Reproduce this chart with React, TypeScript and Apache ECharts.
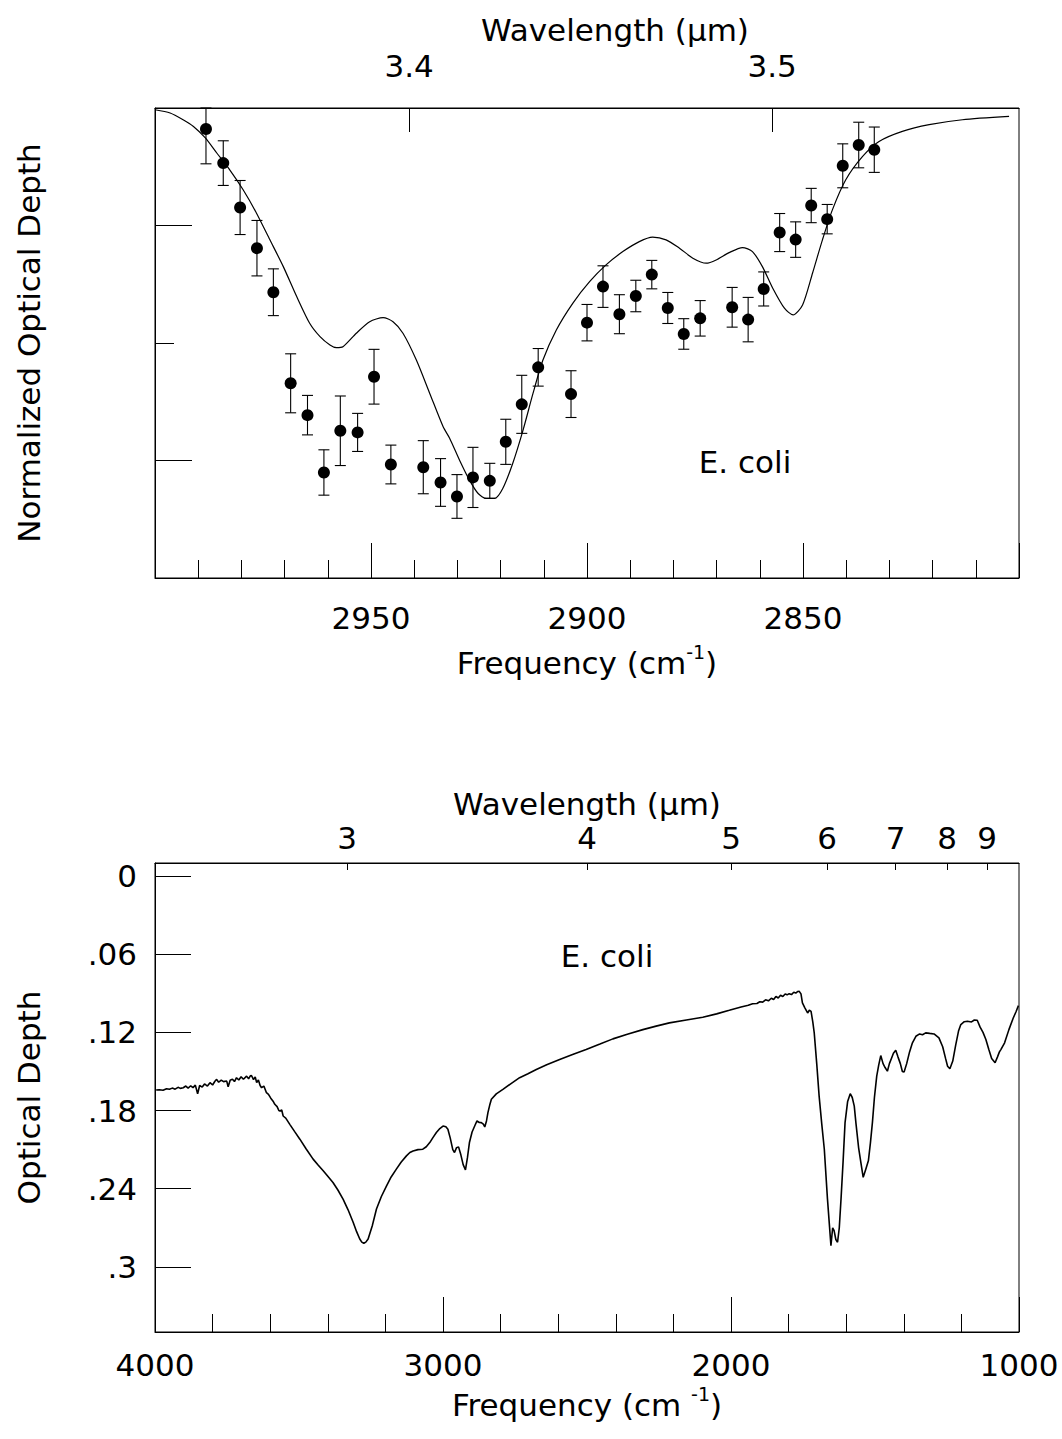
import React, { useEffect, useRef } from 'react';
import * as echarts from 'echarts';

// ---------- data ----------
const topWavelengths = [3.4, 3.5];
const bottomWavelengths = [3, 4, 5, 6, 7, 8, 9];
const opticalDepthTicks = [0, 0.06, 0.12, 0.18, 0.24, 0.3];

// measured points (normalized optical depth) with error bars
const pointFreq = [2988.2, 2984.2, 2980.3, 2976.4, 2972.6, 2968.6, 2964.7, 2960.9, 2957.1, 2953.1, 2949.3, 2945.4, 2937.9, 2933.9, 2930.1, 2926.4, 2922.5, 2918.8, 2915.1, 2911.3, 2903.7, 2900.0, 2896.3, 2892.5, 2888.7, 2885.0, 2881.3, 2877.6, 2873.8, 2866.4, 2862.7, 2859.1, 2855.4, 2851.7, 2848.1, 2844.4, 2840.8, 2837.1, 2833.5];
const pointDepth = [3.821, 3.531, 3.153, 2.807, 2.432, 1.657, 1.386, 0.898, 1.253, 1.239, 1.713, 0.966, 0.943, 0.813, 0.694, 0.856, 0.827, 1.159, 1.478, 1.793, 1.565, 2.173, 2.48, 2.245, 2.4, 2.582, 2.298, 2.077, 2.21, 2.304, 2.199, 2.46, 2.94, 2.88, 3.17, 3.054, 3.508, 3.685, 3.645];
const pointErr = [0.296, 0.19, 0.23, 0.236, 0.199, 0.251, 0.168, 0.193, 0.296, 0.162, 0.233, 0.165, 0.226, 0.203, 0.186, 0.256, 0.149, 0.192, 0.247, 0.16, 0.199, 0.155, 0.177, 0.166, 0.134, 0.121, 0.132, 0.13, 0.151, 0.169, 0.189, 0.145, 0.162, 0.151, 0.146, 0.125, 0.187, 0.194, 0.193];

// model curve [frequency, normalized depth]
const modelCurve = [
  [3000, 3.985], [2996.5, 3.957], [2993.5, 3.9], [2991.1, 3.843], [2988.4, 3.747], [2985.7, 3.617],
  [2982.7, 3.474], [2979.6, 3.304], [2976.5, 3.105], [2973.4, 2.878], [2970.3, 2.65], [2967.2, 2.395],
  [2964.2, 2.168], [2961.8, 2.054], [2959.5, 1.983], [2958.0, 1.96], [2956.5, 1.968], [2953.4, 2.083],
  [2950.3, 2.181], [2947.2, 2.216], [2944.9, 2.181], [2942.6, 2.083], [2939.5, 1.855], [2936.4, 1.571],
  [2933.3, 1.287], [2931.8, 1.19], [2929.5, 1.003], [2927.2, 0.833], [2925.2, 0.719], [2923.3, 0.677],
  [2921.4, 0.677], [2919.5, 0.762], [2917.2, 0.975], [2914.8, 1.259], [2912.5, 1.571], [2910.2, 1.855],
  [2907.1, 2.111], [2903.3, 2.338], [2899.4, 2.522], [2895.6, 2.665], [2891.7, 2.778], [2887.9, 2.863],
  [2884.8, 2.901], [2881.7, 2.878], [2878.6, 2.807], [2875.5, 2.722], [2872.4, 2.679], [2870.1, 2.707],
  [2867.1, 2.769], [2864.0, 2.812], [2861.7, 2.778], [2859.4, 2.65], [2857.0, 2.466], [2854.3, 2.296],
  [2852.3, 2.239], [2850.1, 2.324], [2847.8, 2.594], [2845.5, 2.878], [2843.2, 3.133], [2840.1, 3.389],
  [2836.2, 3.588], [2832.4, 3.715], [2827.0, 3.801], [2820.8, 3.858], [2813.1, 3.9], [2802.3, 3.928]
];

// laboratory spectrum [frequency, optical depth]
const spectrum = [
  [3996, 0.1643], [3985, 0.164], [3972, 0.1645], [3960, 0.1633], [3950, 0.1637], [3940, 0.1628], [3930, 0.1636],
  [3920, 0.1622], [3912, 0.163], [3902, 0.1625], [3893, 0.1612], [3885, 0.1628], [3876, 0.161], [3868, 0.1624],
  [3860, 0.1605], [3852, 0.1671], [3845, 0.1608], [3836, 0.162], [3828, 0.1596], [3818, 0.1612], [3809, 0.1586],
  [3800, 0.1604], [3792, 0.1575], [3786, 0.1561], [3779, 0.1583], [3770, 0.1566], [3762, 0.1578], [3751, 0.1574],
  [3746, 0.1617], [3739, 0.1568], [3731, 0.1559], [3724, 0.1578], [3717, 0.1548], [3709, 0.1566], [3701, 0.1541],
  [3693, 0.156], [3682, 0.1536], [3675, 0.1556], [3669, 0.1534], [3665, 0.1531], [3658, 0.1562], [3652, 0.1543],
  [3647, 0.1586], [3641, 0.1566], [3635, 0.1608], [3630, 0.1625], [3622, 0.1612], [3613, 0.1663], [3606, 0.1676],
  [3598, 0.1705], [3590, 0.1728], [3584, 0.1752], [3576, 0.177], [3570, 0.18], [3566, 0.1804], [3560, 0.1796],
  [3555, 0.1842], [3546, 0.1858], [3532, 0.1906], [3515, 0.1962], [3497, 0.202], [3475, 0.2095], [3451, 0.2173],
  [3433, 0.222], [3416, 0.2263], [3400, 0.2305], [3382, 0.2352], [3365, 0.241], [3347, 0.248], [3330, 0.256],
  [3312, 0.2658], [3300, 0.273], [3289, 0.2786], [3282, 0.281], [3275, 0.2819], [3268, 0.281], [3260, 0.2786],
  [3245, 0.268], [3231, 0.2556], [3214, 0.246], [3196, 0.2378], [3180, 0.231], [3162, 0.225], [3145, 0.2195],
  [3127, 0.2148], [3115, 0.2122], [3104, 0.211], [3087, 0.21], [3070, 0.2097], [3058, 0.2078], [3046, 0.2046],
  [3035, 0.2008], [3023, 0.1969], [3011, 0.1938], [3000, 0.1919], [2990, 0.1925], [2983, 0.1944], [2975, 0.201],
  [2966, 0.21], [2960, 0.2122], [2953, 0.2085], [2946, 0.2079], [2938, 0.214], [2930, 0.2215], [2922, 0.2255],
  [2915, 0.216], [2908, 0.2043], [2899, 0.1965], [2890, 0.1919], [2882, 0.188], [2874, 0.1892], [2867, 0.1893],
  [2860, 0.1905], [2855, 0.1926], [2849, 0.188], [2844, 0.1816], [2838, 0.176], [2832, 0.1714], [2815, 0.1672],
  [2792, 0.1638], [2765, 0.1595], [2734, 0.1548], [2705, 0.1518], [2676, 0.1485], [2640, 0.1448], [2595, 0.1408],
  [2550, 0.137], [2503, 0.1332], [2455, 0.129], [2410, 0.125], [2360, 0.1215], [2306, 0.1179], [2260, 0.1152],
  [2214, 0.1127], [2155, 0.1105], [2098, 0.1084], [2050, 0.1058], [2006, 0.1031], [1965, 0.1005], [1940, 0.0992],
  [1925, 0.098], [1910, 0.0978], [1900, 0.0965], [1890, 0.0968], [1880, 0.095], [1870, 0.0958], [1860, 0.0938],
  [1852, 0.0948], [1844, 0.0924], [1836, 0.0936], [1828, 0.0915], [1820, 0.0925], [1812, 0.0906], [1805, 0.0912],
  [1798, 0.0903], [1790, 0.091], [1782, 0.0892], [1775, 0.0898], [1768, 0.0886], [1763, 0.0885], [1757, 0.0905],
  [1752, 0.0974], [1744, 0.101], [1734, 0.1051], [1728, 0.103], [1722, 0.1039], [1716, 0.112], [1711, 0.1204],
  [1702, 0.145], [1694, 0.1689], [1685, 0.19], [1676, 0.2097], [1665, 0.248], [1653, 0.2837], [1647, 0.27],
  [1642, 0.2722], [1636, 0.279], [1630, 0.2811], [1624, 0.27], [1618, 0.248], [1611, 0.22], [1604, 0.1893],
  [1595, 0.173], [1586, 0.1671], [1579, 0.17], [1572, 0.1766], [1566, 0.19], [1557, 0.2084], [1549, 0.22],
  [1541, 0.2313], [1532, 0.225], [1523, 0.2186], [1516, 0.205], [1509, 0.1893], [1502, 0.17], [1494, 0.1536],
  [1487, 0.145], [1480, 0.1378], [1472, 0.144], [1465, 0.147], [1457, 0.1498], [1450, 0.144], [1443, 0.14],
  [1436, 0.136], [1428, 0.1337], [1420, 0.139], [1412, 0.144], [1405, 0.15], [1399, 0.1505], [1390, 0.144],
  [1380, 0.135], [1370, 0.128], [1358, 0.123], [1345, 0.1212], [1335, 0.1218], [1324, 0.1204], [1310, 0.1208],
  [1295, 0.1212], [1278, 0.1242], [1265, 0.131], [1255, 0.14], [1248, 0.146], [1240, 0.1479], [1230, 0.142],
  [1220, 0.13], [1210, 0.119], [1202, 0.114], [1190, 0.1118], [1179, 0.1115], [1165, 0.112], [1155, 0.1105],
  [1145, 0.1107], [1135, 0.116], [1125, 0.12], [1115, 0.1255], [1105, 0.133], [1095, 0.14], [1083, 0.1433],
  [1075, 0.139], [1068, 0.135], [1063, 0.1332], [1050, 0.128], [1035, 0.1179], [1020, 0.109], [1010, 0.104],
  [1002, 0.0995]
];

const FONT = "'DejaVu Sans', sans-serif";

export default function App() {
  const ref = useRef<HTMLDivElement>(null);

  useEffect(() => {
    document.body.style.margin = '0';
    const chart = echarts.init(ref.current!, undefined, { renderer: 'svg' });

    const text = { fontFamily: FONT, fontSize: 31, color: '#000', lineHeight: 30 };
    const rich = {
      m: { fontFamily: FONT, fontSize: 31, color: '#000', lineHeight: 42 },
      sup: { fontFamily: FONT, fontSize: 19, color: '#000', verticalAlign: 'top' as const, lineHeight: 20 }
    };
    const line = { color: '#000', width: 1 };
    const noSplit = { show: false };

    const option: any = {
      animation: false,
      backgroundColor: '#fff',
      grid: [
        { left: 155, top: 108, width: 864, height: 470, show: true, borderColor: '#000', borderWidth: 1, backgroundColor: 'transparent', outerBoundsMode: 'none', containLabel: false },
        { left: 155, top: 863, width: 864, height: 469, show: true, borderColor: '#000', borderWidth: 1, backgroundColor: 'transparent', outerBoundsMode: 'none', containLabel: false }
      ],
      xAxis: [
        {
          gridIndex: 0, type: 'value', position: 'bottom', min: 2800, max: 3000, interval: 50, inverse: true,
          axisLine: { show: true, onZero: false, lineStyle: line },
          axisTick: { show: true, inside: true, length: 35, lineStyle: line },
          minorTick: { show: true, splitNumber: 5, length: 18, lineStyle: line },
          splitLine: noSplit, minorSplitLine: noSplit,
          axisLabel: { ...text, margin: 25, formatter: (v: number) => (v === 2800 || v === 3000 ? '' : String(v)) },
          name: '{m|Frequency (cm}{sup|-1}{m|)}', nameLocation: 'middle', nameGap: 64,
          nameTextStyle: { ...text, rich }
        },
        {
          gridIndex: 0, type: 'value', position: 'top', min: 2800, max: 3000, inverse: true,
          axisLine: { show: true, onZero: false, lineStyle: line },
          axisTick: { show: true, inside: true, length: 24, lineStyle: line, customValues: topWavelengths.map((w) => 1e4 / w) },
          splitLine: noSplit,
          axisLabel: { ...text, margin: 27, customValues: topWavelengths.map((w) => 1e4 / w), formatter: (v: number) => (1e4 / v).toFixed(1) },
          name: 'Wavelength (µm)', nameLocation: 'middle', nameGap: 63,
          nameTextStyle: { ...text, padding: [0, 0, 0, 56] }
        },
        {
          gridIndex: 1, type: 'value', position: 'bottom', min: 1000, max: 4000, interval: 1000, inverse: true,
          axisLine: { show: true, onZero: false, lineStyle: line },
          axisTick: { show: true, inside: true, length: 35, lineStyle: line },
          minorTick: { show: true, splitNumber: 5, length: 18, lineStyle: line },
          splitLine: noSplit, minorSplitLine: noSplit,
          axisLabel: { ...text, margin: 18, showMinLabel: true, showMaxLabel: true, formatter: (v: number) => String(v) },
          name: '{m|Frequency (cm }{sup|-1}{m|)}', nameLocation: 'middle', nameGap: 52,
          nameTextStyle: { ...text, rich }
        },
        {
          gridIndex: 1, type: 'value', position: 'top', min: 1000, max: 4000, inverse: true,
          axisLine: { show: true, onZero: false, lineStyle: line },
          axisTick: { show: true, inside: true, length: 7, lineStyle: line, customValues: bottomWavelengths.map((w) => 1e4 / w) },
          splitLine: noSplit,
          axisLabel: { ...text, margin: 10, customValues: bottomWavelengths.map((w) => 1e4 / w), formatter: (v: number) => String(Math.round(1e4 / v)) },
          name: 'Wavelength (µm)', nameLocation: 'middle', nameGap: 44,
          nameTextStyle: { ...text }
        }
      ],
      yAxis: [
        {
          gridIndex: 0, type: 'value', min: 0, max: 4, interval: 2,
          axisLine: { show: true, onZero: false, lineStyle: line },
          axisTick: { show: true, inside: true, length: 19, lineStyle: line },
          minorTick: { show: true, splitNumber: 2, length: 37, lineStyle: line },
          splitLine: noSplit, minorSplitLine: noSplit,
          axisLabel: { show: false },
          name: 'Normalized Optical Depth', nameLocation: 'middle', nameGap: 111, nameRotate: 90,
          nameTextStyle: { ...text }
        },
        {
          gridIndex: 1, type: 'value', min: -0.01, max: 0.35, inverse: true,
          axisLine: { show: true, onZero: false, lineStyle: line },
          axisTick: { show: true, inside: true, length: 36, lineStyle: line, customValues: opticalDepthTicks },
          splitLine: noSplit,
          axisLabel: {
            ...text, margin: 18, customValues: opticalDepthTicks,
            formatter: (v: number) => (v === 0 ? '0' : String(v).replace(/^0/, ''))
          },
          name: 'Optical Depth', nameLocation: 'middle', nameGap: 111, nameRotate: 90,
          nameTextStyle: { ...text }
        }
      ],
      series: [
        {
          type: 'line', xAxisIndex: 0, yAxisIndex: 0, data: modelCurve, showSymbol: false, smooth: 0.25,
          lineStyle: { color: '#000', width: 1.2 }, z: 2
        },
        {
          type: 'custom', xAxisIndex: 0, yAxisIndex: 0, z: 3,
          data: pointFreq.map((f, i) => [f, pointDepth[i], pointErr[i]]),
          encode: { x: 0, y: 1 },
          renderItem: (params: any, api: any) => {
            const f = api.value(0);
            const v = api.value(1);
            const e = api.value(2);
            const hi = api.coord([f, v + e]);
            const lo = api.coord([f, v - e]);
            const cs = params.coordSys;
            const top = Math.max(hi[1], cs.y);
            const bot = Math.min(lo[1], cs.y + cs.height);
            const hw = 5.5;
            const st = { stroke: '#000', lineWidth: 1.1 };
            return {
              type: 'group',
              children: [
                { type: 'line', shape: { x1: lo[0], y1: top, x2: lo[0], y2: bot }, style: st },
                { type: 'line', shape: { x1: lo[0] - hw, y1: top, x2: lo[0] + hw, y2: top }, style: st },
                { type: 'line', shape: { x1: lo[0] - hw, y1: bot, x2: lo[0] + hw, y2: bot }, style: st }
              ]
            };
          }
        },
        {
          type: 'scatter', xAxisIndex: 0, yAxisIndex: 0, z: 4,
          data: pointFreq.map((f, i) => [f, pointDepth[i]]),
          symbol: 'circle', symbolSize: 12, itemStyle: { color: '#000', opacity: 1 }
        },
        {
          type: 'line', xAxisIndex: 2, yAxisIndex: 1, data: spectrum, showSymbol: false,
          lineStyle: { color: '#000', width: 1.6 }
        }
      ],
      graphic: [
        { type: 'text', x: 745, y: 462, style: { text: 'E. coli', fontFamily: FONT, fontSize: 31, fill: '#000', align: 'center', verticalAlign: 'middle' } },
        { type: 'text', x: 607, y: 956, style: { text: 'E. coli', fontFamily: FONT, fontSize: 31, fill: '#000', align: 'center', verticalAlign: 'middle' } }
      ]
    };

    chart.setOption(option);
    return () => chart.dispose();
  }, []);

  return <div ref={ref} style={{ width: 1062, height: 1439 }} />;
}
